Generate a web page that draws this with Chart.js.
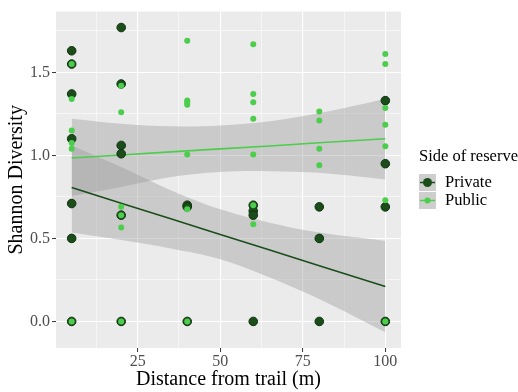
<!DOCTYPE html>
<html>
<head>
<meta charset="utf-8">
<script src="https://cdn.jsdelivr.net/npm/chart.js@4"></script>
<style>
  body { margin: 0; background: #fff; }
  #wrap { width: 518px; height: 392px; }
</style>
</head>
<body>
<div id="wrap"><canvas id="chart" width="518" height="392"></canvas></div>
<script>
const sides = ['Private', 'Public'];
const sideColors = ['#1b4d1b', '#4ccd4c'];

// raw points
const privateDistance = [5, 5, 5, 5, 5, 5, 5, 20, 20, 20, 20, 20, 20, 40, 40, 40, 60, 60, 60, 60, 80, 80, 80, 100, 100, 100, 100];
const privateShannon = [1.63, 1.55, 1.37, 1.10, 0.71, 0.50, 0, 1.77, 1.43, 1.06, 1.01, 0.64, 0, 0.70, 0.69, 0, 0.70, 0.665, 0.64, 0, 0.69, 0.50, 0, 1.33, 0.95, 0.69, 0];
const publicDistance = [5, 5, 5, 5, 5, 5, 20, 20, 20, 20, 20, 20, 40, 40, 40, 40, 40, 40, 40, 60, 60, 60, 60, 60, 60, 60, 80, 80, 80, 80, 100, 100, 100, 100, 100, 100, 100];
const publicShannon = [1.55, 1.34, 1.15, 1.075, 1.04, 0, 1.42, 1.26, 0.69, 0.64, 0.565, 0, 1.69, 1.33, 1.32, 1.305, 1.005, 0.675, 0, 1.67, 1.37, 1.32, 1.22, 1.005, 0.70, 0.585, 1.265, 1.21, 1.04, 0.94, 1.61, 1.55, 1.285, 1.185, 1.055, 0.73, 0];

// lm fits and 95% bands
const fitDistance = [5, 20, 35, 50, 65, 80, 100];
const privateFit = [0.806, 0.712, 0.618, 0.524, 0.430, 0.335, 0.210];
const privateUpper = [1.06, 0.93, 0.79, 0.675, 0.595, 0.535, 0.485];
const privateLower = [0.535, 0.49, 0.44, 0.375, 0.265, 0.135, -0.065];
const publicFit = [0.984, 1.002, 1.021, 1.039, 1.057, 1.076, 1.100];
const publicUpper = [1.22, 1.19, 1.175, 1.18, 1.205, 1.255, 1.34];
const publicLower = [0.755, 0.81, 0.87, 0.90, 0.905, 0.895, 0.855];

const yTicks = [0, 0.25, 0.5, 0.75, 1, 1.25, 1.5, 1.75];
const xTicks = [12.5, 25, 37.5, 50, 62.5, 75, 87.5, 100];

const ribbonFill = 'rgba(153,153,153,0.4)';
const serif = '"Liberation Serif", "DejaVu Serif", serif';

function toPoints(xs, ys) {
  return xs.map((x, i) => ({ x, y: ys[i] }));
}

function isMajor(v, step) {
  return Math.abs(v / step - Math.round(v / step)) < 1e-6;
}

const panelBackground = {
  id: 'panelBackground',
  beforeDraw(chart) {
    const { ctx, chartArea: { left, top, width, height } } = chart;
    ctx.save();
    ctx.fillStyle = '#ebebeb';
    ctx.fillRect(left, top, width, height);
    ctx.restore();
  },
};

// ggplot style legend: grey keys with a line through the point
const sideLegend = {
  id: 'sideLegend',
  afterDraw(chart) {
    const ctx = chart.ctx;
    const left = chart.chartArea.right + 18;
    ctx.save();
    ctx.font = '16.5px ' + serif;
    ctx.fillStyle = '#000';
    ctx.textBaseline = 'middle';
    ctx.fillText('Side of reserve', left, 157);
    sides.forEach((side, i) => {
      const top = 174 + i * 18;
      const cy = top + 8.5;
      ctx.fillStyle = '#cecece';
      ctx.fillRect(left, top, 17, 17);
      ctx.strokeStyle = sideColors[i];
      ctx.lineWidth = 1.5;
      ctx.beginPath();
      ctx.moveTo(left + 1, cy);
      ctx.lineTo(left + 16, cy);
      ctx.stroke();
      ctx.beginPath();
      ctx.arc(left + 8.5, cy, i === 0 ? 4.5 : 3, 0, Math.PI * 2);
      ctx.fillStyle = sideColors[i];
      ctx.fill();
      ctx.fillStyle = '#000';
      ctx.fillText(side, left + 26, cy + 0.5);
    });
    ctx.restore();
  },
};

const lineStyle = {
  type: 'line',
  showLine: true,
  pointRadius: 0,
  pointHoverRadius: 0,
  tension: 0,
  fill: false,
};

const ribbonStyle = {
  type: 'line',
  showLine: true,
  pointRadius: 0,
  pointHoverRadius: 0,
  borderWidth: 0,
  borderColor: 'transparent',
  tension: 0.35,
};

new Chart(document.getElementById('chart').getContext('2d'), {
  type: 'scatter',
  data: {
    datasets: [
      {
        label: 'Public',
        data: toPoints(publicDistance, publicShannon),
        backgroundColor: sideColors[1],
        borderWidth: 0,
        pointRadius: 3,
        order: 0,
      },
      {
        label: 'Private',
        data: toPoints(privateDistance, privateShannon),
        backgroundColor: sideColors[0],
        borderColor: '#0e330e',
        borderWidth: 1,
        pointRadius: 4.3,
        order: 1,
      },
      {
        ...lineStyle,
        label: 'Public fit',
        data: toPoints(fitDistance, publicFit),
        borderColor: sideColors[1],
        borderWidth: 1.6,
        order: 2,
      },
      {
        ...lineStyle,
        label: 'Private fit',
        data: toPoints(fitDistance, privateFit),
        borderColor: sideColors[0],
        borderWidth: 1.6,
        order: 3,
      },
      {
        ...ribbonStyle,
        label: 'Public upper',
        data: toPoints(fitDistance, publicUpper),
        backgroundColor: ribbonFill,
        fill: '+1',
        order: 4,
      },
      {
        ...ribbonStyle,
        label: 'Public lower',
        data: toPoints(fitDistance, publicLower),
        fill: false,
        order: 5,
      },
      {
        ...ribbonStyle,
        label: 'Private upper',
        data: toPoints(fitDistance, privateUpper),
        backgroundColor: ribbonFill,
        fill: '+1',
        order: 6,
      },
      {
        ...ribbonStyle,
        label: 'Private lower',
        data: toPoints(fitDistance, privateLower),
        fill: false,
        order: 7,
      },
    ],
  },
  options: {
    responsive: false,
    animation: false,
    layout: { padding: { left: 0, right: 117, top: 10, bottom: 0 } },
    plugins: {
      legend: { display: false },
      tooltip: { enabled: false },
    },
    scales: {
      x: {
        type: 'linear',
        min: 0.25,
        max: 104.75,
        afterFit: scale => { scale.height = 44; },
        afterBuildTicks: scale => { scale.ticks = xTicks.map(value => ({ value })); },
        ticks: {
          autoSkip: false,
          maxRotation: 0,
          padding: 0,
          color: '#4d4d4d',
          font: { family: serif, size: 16 },
          callback: v => (isMajor(v, 25) ? String(v) : ''),
        },
        grid: {
          color: '#ffffff',
          lineWidth: c => (isMajor(c.tick.value, 25) ? 1.1 : 0.55),
          tickColor: c => (isMajor(c.tick.value, 25) ? '#333333' : 'rgba(0,0,0,0)'),
          tickLength: 4,
          tickWidth: 1,
        },
        border: { display: false },
        title: {
          display: true,
          text: 'Distance from trail (m)',
          color: '#000',
          font: { family: serif, size: 20 },
          padding: { top: 0, bottom: 0 },
        },
      },
      y: {
        type: 'linear',
        min: -0.16,
        max: 1.866,
        afterFit: scale => { scale.width = 56; },
        afterBuildTicks: scale => { scale.ticks = yTicks.map(value => ({ value })); },
        ticks: {
          autoSkip: false,
          padding: 2,
          color: '#4d4d4d',
          font: { family: serif, size: 16 },
          callback: v => (isMajor(v, 0.5) ? v.toFixed(1) : ''),
        },
        grid: {
          color: '#ffffff',
          lineWidth: c => (isMajor(c.tick.value, 0.5) ? 1.1 : 0.55),
          tickColor: c => (isMajor(c.tick.value, 0.5) ? '#333333' : 'rgba(0,0,0,0)'),
          tickLength: 4,
          tickWidth: 1,
        },
        border: { display: false },
        title: {
          display: true,
          text: 'Shannon Diversity',
          color: '#000',
          font: { family: serif, size: 20 },
          padding: { top: 5, bottom: 0 },
        },
      },
    },
  },
  plugins: [panelBackground, sideLegend],
});
</script>
</body>
</html>
